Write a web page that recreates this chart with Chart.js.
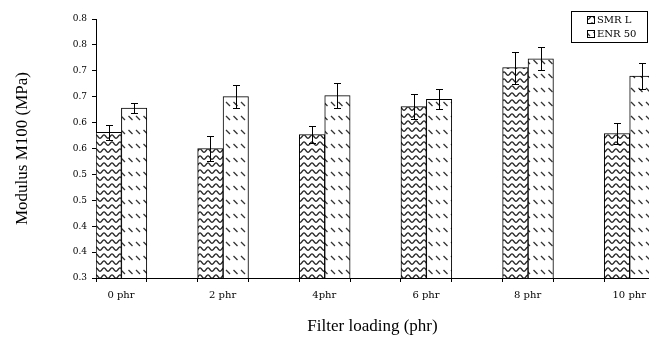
<!DOCTYPE html>
<html><head><meta charset="utf-8">
<script src="https://cdn.jsdelivr.net/npm/chart.js@4.4.1/dist/chart.umd.min.js"></script>
<style>html,body{margin:0;padding:0;overflow:hidden;background:#fff}</style>
</head><body>
<canvas id="c" width="649" height="343"></canvas>
<script>
const categories = ['0 phr', '2 phr', '4phr', '6 phr', '8 phr', '10 phr'];
const seriesNames = ['SMR L', 'ENR 50'];
const smrValues = [0.581, 0.550, 0.577, 0.631, 0.706, 0.579];
const smrErrors = [0.014, 0.025, 0.017, 0.024, 0.031, 0.021];
const enrValues = [0.628, 0.650, 0.652, 0.645, 0.723, 0.690];
const enrErrors = [0.010, 0.022, 0.024, 0.019, 0.022, 0.025];
const yTickLabels = ['0.3', '0.4', '0.4', '0.5', '0.5', '0.6', '0.6', '0.7', '0.7', '0.8', '0.8'];
const xTitle = 'Filter loading (phr)';
const yTitle = 'Modulus M100 (MPa)';

function wavePattern() {
  const c = document.createElement('canvas'); c.width = 8; c.height = 7;
  const g = c.getContext('2d');
  g.fillStyle = '#fff'; g.fillRect(0, 0, 8, 7);
  g.strokeStyle = '#2a2a2a'; g.lineWidth = 1.4;
  g.beginPath();
  for (let k = -2; k <= 18; k++) {
    const x = k / 2;
    const y = 3.6 - 1.7 * Math.cos(2 * Math.PI * x / 8);
    if (k === -2) g.moveTo(x, y); else g.lineTo(x, y);
  }
  g.stroke();
  return g.createPattern(c, 'repeat');
}
function dashPattern() {
  const c = document.createElement('canvas'); c.width = 15; c.height = 14;
  const g = c.getContext('2d');
  g.fillStyle = '#fff'; g.fillRect(0, 0, 15, 14);
  g.strokeStyle = '#333'; g.lineWidth = 1.3;
  g.beginPath();
  g.moveTo(1, 4); g.lineTo(5, 8);
  g.moveTo(8.5, 4); g.lineTo(12.5, 8);
  g.stroke();
  return g.createPattern(c, 'repeat');
}
const fills = [wavePattern(), dashPattern()];
const errs = [smrErrors, enrErrors];

const errorBars = {
  id: 'errorBars',
  afterDatasetsDraw(chart) {
    const ctx = chart.ctx, ys = chart.scales.y, ca = chart.chartArea;
    ctx.save();
    ctx.beginPath(); ctx.rect(ca.left, 0, ca.right - ca.left, chart.height); ctx.clip();
    ctx.strokeStyle = '#000'; ctx.lineWidth = 1;
    chart.data.datasets.forEach((ds, d) => {
      const meta = chart.getDatasetMeta(d);
      meta.data.forEach((bar, i) => {
        const v = ds.data[i].y, e = errs[d][i];
        const x = Math.round(bar.x) + 0.5;
        const t = Math.round(ys.getPixelForValue(v + e)) + 0.5;
        const b = Math.round(ys.getPixelForValue(v - e)) + 0.5;
        ctx.beginPath();
        ctx.moveTo(x, t); ctx.lineTo(x, b);
        ctx.moveTo(x - 3.5, t); ctx.lineTo(x + 3.5, t);
        ctx.moveTo(x - 3.5, b); ctx.lineTo(x + 3.5, b);
        ctx.stroke();
      });
    });
    ctx.restore();
  }
};

const boxLegend = {
  id: 'boxLegend',
  afterDraw(chart) {
    const ctx = chart.ctx, ca = chart.chartArea;
    const L = ca.right - 78, T = Math.round(ca.top - 8), W = 76, H = 31;
    ctx.save();
    ctx.fillStyle = '#fff'; ctx.fillRect(L, T, W, H);
    ctx.strokeStyle = '#000'; ctx.lineWidth = 1;
    ctx.strokeRect(L + 0.5, T + 0.5, W, H);
    ctx.font = '10px "DejaVu Serif"'; ctx.textBaseline = 'middle'; ctx.fillStyle = '#000';
    chart.data.datasets.forEach((ds, d) => {
      const cy = T + 9 + d * 14;
      ctx.fillStyle = ds.backgroundColor;
      ctx.fillRect(L + 16, cy - 4, 8, 8);
      ctx.strokeStyle = '#000';
      ctx.strokeRect(L + 16.5, cy - 3.5, 7, 7);
      ctx.fillStyle = '#000';
      ctx.fillText(ds.label, L + 26, cy + 0.5);
    });
    ctx.restore();
  }
};

new Chart(document.getElementById('c'), {
  type: 'bar',
  data: {
    datasets: [
      { label: seriesNames[0], data: smrValues.map((y, i) => ({ x: i, y })), backgroundColor: fills[0], borderColor: '#000', borderWidth: 1 },
      { label: seriesNames[1], data: enrValues.map((y, i) => ({ x: i, y })), backgroundColor: fills[1], borderColor: '#000', borderWidth: 1 }
    ]
  },
  options: {
    responsive: false, animation: false, devicePixelRatio: 1,
    categoryPercentage: 1, barPercentage: 1,
    layout: { padding: { top: 19, right: 0, bottom: 0, left: 0 } },
    plugins: { legend: { display: false }, tooltip: { enabled: false } },
    scales: {
      x: {
        type: 'linear', min: -0.25, max: 5.19, offset: false,
        afterBuildTicks: s => { const t = []; for (let v = -0.25; v <= s.max + 1e-9; v += 0.5) t.push({ value: v }); s.ticks = t; },
        afterFit: s => { s.height = 65; },
        ticks: {
          autoSkip: false, maxRotation: 0, minRotation: 0, labelOffset: 25, padding: 7, color: '#000',
          font: { family: 'DejaVu Serif', size: 10 },
          callback: v => { const i = v + 0.25; return (Number.isInteger(i) && i < categories.length) ? categories[i] : ''; }
        },
        grid: { offset: false, drawOnChartArea: false, drawTicks: true, tickLength: 4, color: '#000', tickColor: '#000' },
        border: { display: true, color: '#000', width: 1 },
        title: { display: true, text: xTitle, color: '#000', font: { family: 'Liberation Serif', size: 17 }, padding: { top: 0, bottom: 6 } }
      },
      y: {
        min: 0.3, max: 0.8,
        afterFit: s => { s.width = 96; },
        ticks: { stepSize: 0.05, padding: 5, color: '#000', font: { family: 'DejaVu Serif', size: 9 }, callback: (v, i) => yTickLabels[i] },
        grid: { drawOnChartArea: false, drawTicks: true, tickLength: 4, color: '#000', tickColor: '#000' },
        border: { display: true, color: '#000', width: 1 },
        title: { display: true, text: yTitle, color: '#000', font: { family: 'Liberation Serif', size: 17 }, padding: { top: 12, bottom: 0 } }
      }
    }
  },
  plugins: [errorBars, boxLegend]
});
</script>
</body></html>
